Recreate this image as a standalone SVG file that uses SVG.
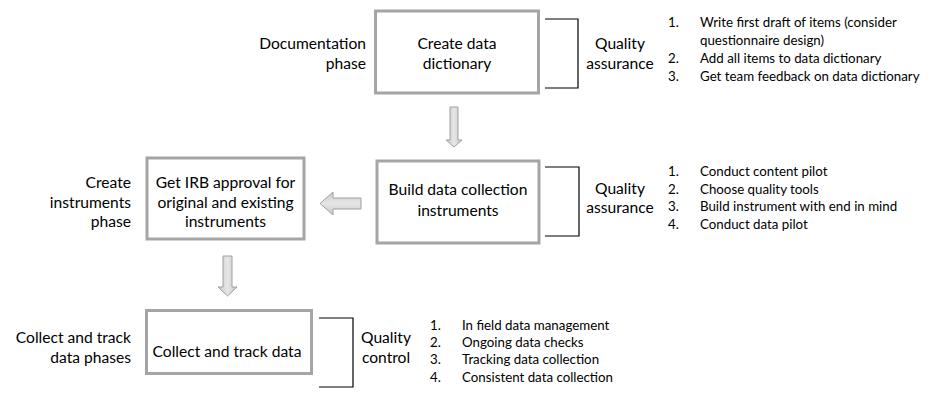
<svg xmlns="http://www.w3.org/2000/svg" width="931" height="404" viewBox="0 0 931 404">
<defs>
<linearGradient id="ag" x1="0" y1="0" x2="1" y2="0">
<stop offset="0" stop-color="#c8c8c8"/><stop offset="0.5" stop-color="#e6e6e6"/><stop offset="1" stop-color="#c8c8c8"/>
</linearGradient>
<linearGradient id="agv" x1="0" y1="0" x2="0" y2="1">
<stop offset="0" stop-color="#c8c8c8"/><stop offset="0.5" stop-color="#e6e6e6"/><stop offset="1" stop-color="#c8c8c8"/>
</linearGradient>
<style>
.box{fill:#fff;stroke:#a5a5a5;stroke-width:3}
.br{fill:none;stroke:#000;stroke-width:1.2}
.t{font-family:Lato,"Liberation Sans",sans-serif;font-size:15.6px;fill:#000}
.m{text-anchor:middle}
.r{text-anchor:end}
.l{font-family:Lato,"Liberation Sans",sans-serif;font-size:13.3px;fill:#000}
.arr{stroke:#a0a0a0;stroke-width:1}
</style>
</defs>
<rect width="931" height="404" fill="#fff"/>
<g id="connectors">
<path class="arr" fill="url(#ag)" d="M450,107 H458 V140 H462 L454,147 L446,140 H450 Z"/>
<path class="arr" fill="url(#ag)" d="M223,256 H232 V287 H237 L227.5,296 L218,287 H223 Z"/>
<path class="arr" fill="url(#agv)" d="M361,198 V209 H333 V215 L320,203.5 L333,192 V198 Z"/>
</g>
<g id="node-dictionary">
<rect class="box" x="375.5" y="11" width="163" height="82"/>
<text class="t m" x="457" y="49">Create data</text>
<text class="t m" x="457" y="69">dictionary</text>
</g>
<g id="node-build">
<rect class="box" x="377" y="161" width="162" height="82"/>
<text class="t m" x="458" y="195">Build data collection</text>
<text class="t m" x="458" y="216">instruments</text>
</g>
<g id="node-irb">
<rect class="box" x="147" y="158" width="157" height="81"/>
<text class="t m" x="225.5" y="188">Get IRB approval for</text>
<text class="t m" x="225.5" y="208">original and existing</text>
<text class="t m" x="225.5" y="227">instruments</text>
</g>
<g id="node-collect">
<rect class="box" x="146.5" y="310.5" width="165" height="63"/>
<text class="t m" x="227" y="357">Collect and track data</text>
</g>
<g id="phase-labels">
<text class="t r" x="366" y="49">Documentation</text>
<text class="t r" x="366" y="69">phase</text>
<text class="t r" x="131" y="188">Create</text>
<text class="t r" x="131" y="208">instruments</text>
<text class="t r" x="131" y="227">phase</text>
<text class="t r" x="131" y="343">Collect and track</text>
<text class="t r" x="131" y="363">data phases</text>
</g>
<g id="qa1">
<path class="br" d="M545,19 H578 V88 H545"/>
<text class="t m" x="620" y="49">Quality</text>
<text class="t m" x="620" y="69">assurance</text>
<text class="l" x="668" y="27">1.</text><text class="l" x="700" y="27">Write first draft of items (consider</text>
<text class="l" x="700" y="45">questionnaire design)</text>
<text class="l" x="668" y="63">2.</text><text class="l" x="700" y="63">Add all items to data dictionary</text>
<text class="l" x="668" y="81">3.</text><text class="l" x="700" y="81">Get team feedback on data dictionary</text>
</g>
<g id="qa2">
<path class="br" d="M545,167 H579 V236 H545"/>
<text class="t m" x="620" y="194">Quality</text>
<text class="t m" x="620" y="213">assurance</text>
<text class="l" x="668" y="176">1.</text><text class="l" x="700" y="176">Conduct content pilot</text>
<text class="l" x="668" y="194">2.</text><text class="l" x="700" y="194">Choose quality tools</text>
<text class="l" x="668" y="211">3.</text><text class="l" x="700" y="211">Build instrument with end in mind</text>
<text class="l" x="668" y="229">4.</text><text class="l" x="700" y="229">Conduct data pilot</text>
</g>
<g id="qc">
<path class="br" d="M319,318 H353 V387 H319"/>
<text class="t m" x="386" y="343">Quality</text>
<text class="t m" x="386" y="363">control</text>
<text class="l" x="430" y="330">1.</text><text class="l" x="462" y="330">In field data management</text>
<text class="l" x="430" y="347">2.</text><text class="l" x="462" y="347">Ongoing data checks</text>
<text class="l" x="430" y="364">3.</text><text class="l" x="462" y="364">Tracking data collection</text>
<text class="l" x="430" y="382">4.</text><text class="l" x="462" y="382">Consistent data collection</text>
</g>
</svg>
